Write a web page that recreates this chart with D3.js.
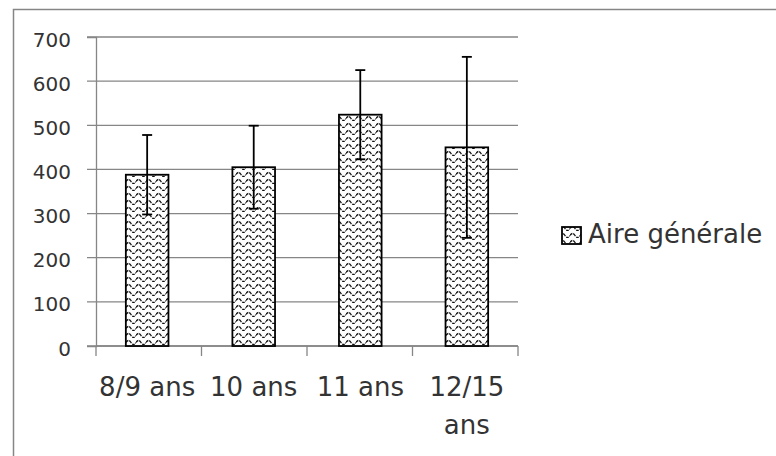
<!DOCTYPE html>
<html>
<head>
<meta charset="utf-8">
<script src="https://cdn.jsdelivr.net/npm/d3@7"></script>
<style>
  body { margin: 0; background: #fff; }
  svg { display: block; }
</style>
</head>
<body>
<svg id="chart" width="776" height="456"></svg>
<script>
const categories = ["8/9 ans", "10 ans", "11 ans", "12/15 ans"];
const values = [388, 405, 524, 450];
const errors = [90, 94, 101, 205];
const yTicks = [0, 100, 200, 300, 400, 500, 600, 700];
const seriesName = "Aire générale";

const svg = d3.select("#chart");
const margin = { top: 37, left: 96, right: 258, bottom: 110 };
const width = 776 - margin.left - margin.right;
const height = 456 - margin.top - margin.bottom;
const grey = "#868686";
const textColor = "#333";
const font = "DejaVu Sans";

// outer frame (runs off the right and bottom edges)
svg.append("rect")
  .attr("x", 13.5)
  .attr("y", 9.5)
  .attr("width", 800)
  .attr("height", 500)
  .attr("fill", "#fff")
  .attr("stroke", grey)
  .attr("stroke-width", 1.5);

// wave pattern for the bars
const pattern = svg.append("defs").append("pattern")
  .attr("id", "wave")
  .attr("patternUnits", "userSpaceOnUse")
  .attr("width", 10)
  .attr("height", 7);
pattern.append("rect").attr("width", 10).attr("height", 7).attr("fill", "#fff");
pattern.append("path")
  .attr("d", "M0,4.5 Q2.5,0.5 5,4.5 T10,4.5")
  .attr("fill", "none")
  .attr("stroke", "#111")
  .attr("stroke-width", 1.3)
  .attr("stroke-dasharray", "3 1");

const g = svg.append("g")
  .attr("transform", "translate(" + margin.left + "," + margin.top + ")");

const x = d3.scaleBand()
  .domain(categories)
  .range([0, width])
  .paddingInner(0.6)
  .paddingOuter(0.28);

const y = d3.scaleLinear()
  .domain([0, 700])
  .range([height, 0]);

// gridlines with the small outer tick
g.append("g")
  .selectAll("line")
  .data(yTicks)
  .enter().append("line")
  .attr("x1", -9)
  .attr("x2", width)
  .attr("y1", d => y(d))
  .attr("y2", d => y(d))
  .attr("stroke", grey)
  .attr("stroke-width", 1.3);

// y axis labels
const yAxis = g.append("g")
  .call(d3.axisLeft(y).tickValues(yTicks).tickSize(9).tickPadding(16));
yAxis.select(".domain").attr("stroke", grey).attr("stroke-width", 1.3);
yAxis.selectAll(".tick line").remove();
yAxis.selectAll("text")
  .attr("font-family", font)
  .attr("font-size", 20)
  .attr("fill", textColor)
  .attr("dy", "0.45em");

// x axis line and boundary ticks
g.append("line")
  .attr("x1", 0).attr("x2", width)
  .attr("y1", height).attr("y2", height)
  .attr("stroke", grey).attr("stroke-width", 1.3);
g.append("g")
  .selectAll("line")
  .data(d3.range(categories.length + 1))
  .enter().append("line")
  .attr("x1", i => i * width / categories.length)
  .attr("x2", i => i * width / categories.length)
  .attr("y1", height)
  .attr("y2", height + 10)
  .attr("stroke", grey)
  .attr("stroke-width", 1.3);

// bars
g.append("g")
  .selectAll("rect")
  .data(values)
  .enter().append("rect")
  .attr("x", (d, i) => x(categories[i]))
  .attr("y", d => y(d))
  .attr("width", x.bandwidth())
  .attr("height", d => height - y(d))
  .attr("fill", "url(#wave)")
  .attr("stroke", "#000")
  .attr("stroke-width", 1.8);

// error bars
const err = g.append("g")
  .attr("stroke", "#000")
  .attr("stroke-width", 1.8)
  .selectAll("g")
  .data(values)
  .enter().append("g")
  .attr("transform", (d, i) => "translate(" + (x(categories[i]) + x.bandwidth() / 2) + ",0)");
err.append("line")
  .attr("y1", (d, i) => y(d + errors[i]))
  .attr("y2", (d, i) => y(d - errors[i]));
err.append("line")
  .attr("x1", -5).attr("x2", 5)
  .attr("y1", (d, i) => y(d + errors[i]))
  .attr("y2", (d, i) => y(d + errors[i]));
err.append("line")
  .attr("x1", -5).attr("x2", 5)
  .attr("y1", (d, i) => y(d - errors[i]))
  .attr("y2", (d, i) => y(d - errors[i]));

// category labels, wrapped to the band width
const labels = g.append("g")
  .attr("font-family", font)
  .attr("font-size", 26)
  .attr("fill", textColor)
  .attr("text-anchor", "middle")
  .selectAll("text")
  .data(categories)
  .enter().append("text")
  .attr("x", d => x(d) + x.bandwidth() / 2)
  .attr("y", height + 50);

labels.each(function(d) {
  const text = d3.select(this);
  const words = d.split(" ");
  let line = [];
  let tspan = text.append("tspan").attr("x", text.attr("x"));
  words.forEach(w => {
    line.push(w);
    tspan.text(line.join(" "));
    if (tspan.node().getComputedTextLength() > x.step() && line.length > 1) {
      line.pop();
      tspan.text(line.join(" "));
      line = [w];
      tspan = text.append("tspan")
        .attr("x", text.attr("x"))
        .attr("dy", 38)
        .text(w);
    }
  });
});

// legend
const legend = svg.append("g");
legend.append("rect")
  .attr("x", 562)
  .attr("y", 227)
  .attr("width", 19)
  .attr("height", 17)
  .attr("fill", "url(#wave)")
  .attr("stroke", "#000")
  .attr("stroke-width", 1.8);
legend.append("text")
  .attr("x", 588)
  .attr("y", 243)
  .attr("font-family", font)
  .attr("font-size", 26)
  .attr("fill", textColor)
  .text(seriesName);
</script>
</body>
</html>
